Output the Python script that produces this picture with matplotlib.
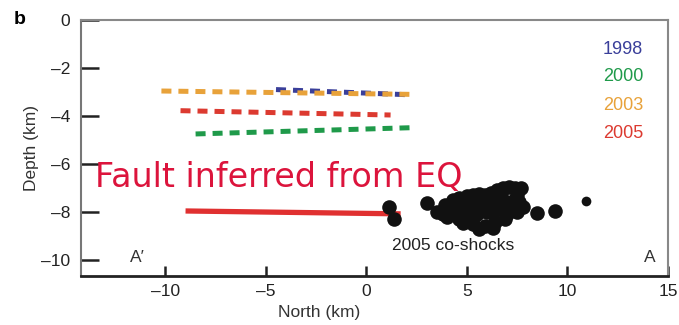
import matplotlib
matplotlib.use("Agg")
import matplotlib.pyplot as plt

# dashed fault traces per year: (north km start, end), (depth start, end)
years = ["1998", "2000", "2003", "2005"]
year_colors = ["#3a3f9a", "#1f9a4a", "#e8a23a", "#dc3a30"]
year_label_y = [-1.21, -2.375, -3.58, -4.75]
trace_x = [[-4.5, 2.2], [-8.5, 2.2], [-10.2, 2.2], [-9.25, 1.2]]
trace_y = [[-2.9, -3.12], [-4.75, -4.49], [-2.96, -3.1], [-3.78, -3.96]]

# fault inferred from earthquakes
fault_x = [-9.0, 1.7]
fault_y = [-7.96, -8.08]

# 2005 co-shocks (north km, depth km)
eq_x = [1.1, 1.35, 3.0, 3.5, 3.9, 4.3, 4.6, 4.2, 4.7, 5.0, 5.3, 5.6, 5.9, 6.2, 6.5, 6.8, 7.1, 7.4,
        7.5, 7.3, 6.9, 6.6, 6.2, 5.8, 5.4, 5.0, 4.6, 5.1, 5.5, 6.0, 6.4, 6.8, 7.2, 7.5, 5.3, 5.9,
        6.4, 6.9, 4.0, 4.8, 5.6, 6.3, 7.0, 7.6, 7.7, 6.0, 5.2, 4.4, 3.8, 6.7, 7.8,
        8.5, 9.4]
eq_y = [-7.8, -8.3, -7.63, -8.0, -7.7, -7.5, -7.4, -8.1, -7.9, -7.35, -7.3, -7.25, -7.3, -7.2,
        -7.1, -7.0, -6.95, -7.0, -7.3, -7.55, -7.6, -7.5, -7.6, -7.7, -7.8, -7.85, -8.3, -8.2,
        -8.1, -8.0, -7.9, -7.85, -7.8, -8.0, -8.5, -8.6, -8.4, -8.3, -8.2, -8.45, -8.7, -8.65,
        -8.1, -7.6, -7.0, -7.6, -7.6, -7.9, -8.1, -7.3, -7.8,
        -8.05, -7.95]
eq_small_x = [10.9]
eq_small_y = [-7.55]

xticks = [-10, -5, 0, 5, 10, 15]
yticks = [0, -2, -4, -6, -8, -10]

plt.rcParams["font.family"] = ["Liberation Sans", "DejaVu Sans"]
fig = plt.figure(figsize=(6.79, 3.25), dpi=100)
ax = fig.add_axes([0.1193, 0.1508, 0.8645, 0.7877])

for xs, ys, c in zip(trace_x, trace_y, year_colors):
    ax.plot(xs, ys, color=c, lw=3.6, ls=(0, (2.0, 1.4)), solid_capstyle="butt")
ax.plot(fault_x, fault_y, color="#e03030", lw=3.8, solid_capstyle="butt")
ax.plot(eq_x, eq_y, "o", color="#111111", ms=10.5, mec="none")
ax.plot(eq_small_x, eq_small_y, "o", color="#111111", ms=7, mec="none")

ax.set_xlim(-14.2, 15)
ax.set_ylim(-10.67, 0)
ax.set_xticks(xticks)
ax.set_yticks(yticks)
ax.set_xticklabels([str(t).replace("-", "\u2013") for t in xticks])
ax.set_yticklabels([str(t).replace("-", "\u2013") for t in yticks])
ax.tick_params(axis="y", direction="in", length=13, width=1.8, pad=8, labelsize=12.5, colors="#222222")
ax.tick_params(axis="x", direction="in", length=7, width=1.8, pad=6, labelsize=12.5, colors="#222222")
for s in ["top", "right"]:
    ax.spines[s].set_color("#888888"); ax.spines[s].set_linewidth(1.5)
ax.spines["left"].set_color("#777777"); ax.spines["left"].set_linewidth(1.5)
ax.spines["bottom"].set_color("#222222"); ax.spines["bottom"].set_linewidth(2)

ax.set_ylabel("Depth (km)", fontsize=12.5, color="#333333", labelpad=1)
fig.text(319 / 679, 1 - 313 / 325, "North (km)", fontsize=12.5, color="#333333", ha="center", va="center")
fig.text(20 / 679, 1 - 20 / 325, "b", fontsize=14, fontweight="bold", ha="center", va="center")

for yr, c, yy in zip(years, year_colors, year_label_y):
    ax.text(13.76, yy, yr, color=c, fontsize=13, ha="right", va="center")

ax.text(-11.4, -9.9, "A\u2032", fontsize=12.5, color="#333333", ha="center", va="center")
ax.text(14.1, -9.9, "A", fontsize=12.5, color="#333333", ha="center", va="center")
ax.text(1.29, -9.42, "2005 co-shocks", fontsize=12.5, color="#222222", ha="left", va="center")
ax.text(-13.5, -6.98, "Fault inferred from EQ", fontsize=24, color="#dc143c",
        family="DejaVu Sans", ha="left", va="baseline")

fig.savefig("out.png", dpi=100)
